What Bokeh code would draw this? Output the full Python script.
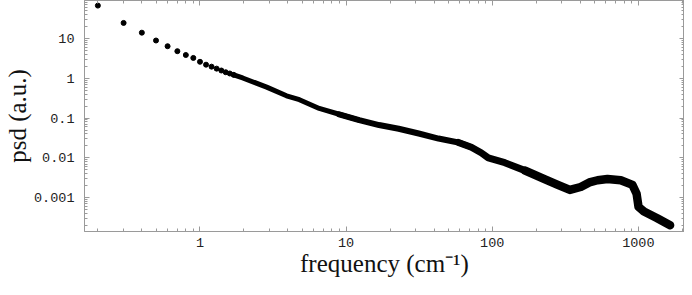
from bokeh.plotting import figure
from bokeh.models import LogAxis, LogTicker, CustomJSTickFormatter, Range1d
from bokeh.embed import file_html
from bokeh.resources import INLINE

# sparse low-frequency samples (cm^-1) and psd (a.u.)
low_freq = [0.2, 0.3, 0.4, 0.5, 0.6, 0.7, 0.8, 0.9, 1.0, 1.1, 1.2, 1.3, 1.4, 1.5, 1.6, 1.7]
low_psd = [67, 24.6, 14, 8.9, 6.4, 4.8, 3.85, 3.25, 2.6, 2.2, 1.96, 1.75, 1.57, 1.42, 1.32, 1.22]

# dense part of the spectrum (read along the thick band)
band_freq = [1.7, 1.96, 2.86, 3.91, 4.79, 6.55, 8.96, 12.3, 16.8, 22.9, 31.4, 42.9, 58.7,
             72, 84, 94, 122, 168, 230, 281, 340, 403, 462, 526, 615, 758, 912, 973, 1003,
             1093, 1337, 1650]
band_psd = [1.22, 1.02, 0.60, 0.364, 0.29, 0.175, 0.125, 0.089, 0.067, 0.054, 0.041, 0.0307, 0.0245,
            0.0186, 0.0135, 0.0100, 0.0076, 0.0048, 0.0029, 0.0021, 0.00157, 0.00186, 0.00242,
            0.00275, 0.00295, 0.00275, 0.0021, 0.00126, 0.00059, 0.00045, 0.00031, 0.000204]

AX = "#9a9a9a"
TICK_FONT = "Liberation Mono"
LABEL_FONT = "Liberation Serif"

p = figure(width=684, height=279, x_axis_type="log", y_axis_type="log",
           x_range=Range1d(0.162, 2070), y_range=Range1d(0.000142, 90),
           output_backend="svg", toolbar_location=None,
           min_border_left=0, min_border_right=0, min_border_top=0, min_border_bottom=0)
p.grid.visible = False
p.outline_line_color = AX
p.background_fill_color = "white"
p.border_fill_color = "white"

fmt = CustomJSTickFormatter(code="return Number(tick.toPrecision(6)).toString();")

for ax in (p.xaxis[0], p.yaxis[0]):
    ax.ticker = LogTicker(num_minor_ticks=10)
    ax.formatter = fmt
    ax.axis_line_color = AX
    ax.major_tick_line_color = AX
    ax.minor_tick_line_color = AX
    ax.major_tick_in = 5
    ax.major_tick_out = 0
    ax.minor_tick_in = 3
    ax.minor_tick_out = 0
    ax.major_label_text_font = TICK_FONT
    ax.major_label_text_font_size = "13.5px"
    ax.major_label_text_color = "#222222"
    ax.axis_label_text_font = LABEL_FONT
    ax.axis_label_text_font_style = "normal"
    ax.axis_label_text_font_size = "25px"
    ax.axis_label_text_color = "#111111"

p.xaxis[0].axis_label = "frequency (cm⁻¹)"
p.xaxis[0].major_label_standoff = 6
p.xaxis[0].axis_label_standoff = 0
p.yaxis[0].axis_label = "psd (a.u.)"
p.yaxis[0].major_label_standoff = 10
p.yaxis[0].axis_label_standoff = 0

blank = CustomJSTickFormatter(code="return ' ';")
for loc in ("above", "right"):
    ax = LogAxis(ticker=LogTicker(num_minor_ticks=10), formatter=blank)
    ax.axis_line_color = AX
    ax.major_tick_line_color = AX
    ax.minor_tick_line_color = AX
    ax.major_tick_in = 5
    ax.major_tick_out = 0
    ax.minor_tick_in = 3
    ax.minor_tick_out = 0
    ax.major_label_text_font_size = "1px"
    ax.major_label_text_alpha = 0
    ax.major_label_standoff = 0
    ax.axis_label_standoff = 0
    ax.axis_label_text_font_size = "1px"
    p.add_layout(ax, loc)

# thick dense band, growing thicker at high frequency
opts = dict(color="black", line_cap="round", line_join="round")
p.line(band_freq[:8], band_psd[:8], line_width=5, **opts)
p.line(band_freq[6:14], band_psd[6:14], line_width=6, **opts)
p.line(band_freq[12:20], band_psd[12:20], line_width=7, **opts)
p.line(band_freq[17:], band_psd[17:], line_width=8.5, **opts)

p.scatter(low_freq, low_psd, size=5, color="black")

open("out.html", "w").write(file_html(p, INLINE))
